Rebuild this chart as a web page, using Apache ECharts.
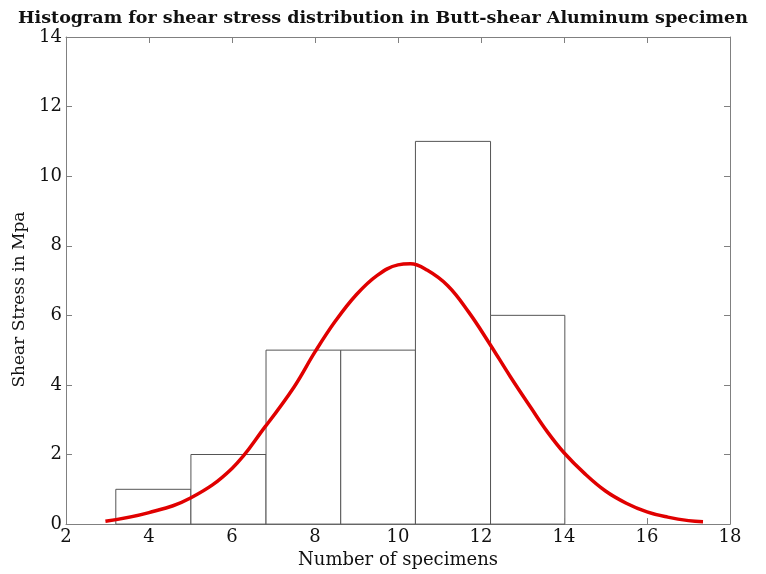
<!DOCTYPE html>
<html>
<head>
<meta charset="utf-8">
<script src="https://cdn.jsdelivr.net/npm/echarts@6/dist/echarts.min.js"></script>
<style>html,body{margin:0;padding:0;background:#fff}#c{width:766px;height:574px}</style>
</head>
<body>
<div id="c"></div>
<script>
const binEdges = [3.2, 5.01, 6.82, 8.62, 10.42, 12.23, 14.02];
const binCounts = [1, 2, 5, 5, 11, 6];
const curveX = [2.95, 4.0, 5.0, 6.0, 6.8, 7.5, 8.0, 8.5, 9.0, 9.5, 10.0, 10.3, 10.7, 11.2, 11.7, 12.2, 12.7, 13.2, 13.6, 14.0, 14.5, 15.0, 15.5, 16.0, 16.5, 17.0, 17.35];
const curveY = [0.08, 0.33, 0.75, 1.6, 2.8, 3.95, 4.95, 5.85, 6.6, 7.15, 7.45, 7.48, 7.3, 6.85, 6.1, 5.2, 4.25, 3.35, 2.65, 2.05, 1.45, 0.95, 0.6, 0.35, 0.2, 0.1, 0.07];
const xTicks = [2, 18, 2];
const yTicks = [0, 14, 2];

const barData = binCounts.map((c, i) => [binEdges[i], binEdges[i + 1], c]);
const lineData = curveX.map((x, i) => [x, curveY[i]]);

const serif = '"DejaVu Serif", "Liberation Serif", serif';
const frame = '#808080';
const chart = echarts.init(document.getElementById('c'));
const axisCommon = {
  axisLine: { show: true, onZero: false, lineStyle: { color: frame, width: 1 } },
  axisTick: { show: true, inside: true, length: 6, lineStyle: { color: frame } },
  splitLine: { show: false }
};
chart.setOption({
  backgroundColor: '#fff',
  animation: false,
  title: {
    text: 'Histogram for shear stress distribution in Butt-shear Aluminum specimen',
    left: 'center', top: 4,
    textStyle: { fontFamily: serif, fontSize: 17.5, fontWeight: 'bold', color: '#111' }
  },
  grid: { left: 66, right: 36, top: 37, bottom: 47 },
  xAxis: [
    Object.assign({
      type: 'value', min: xTicks[0], max: xTicks[1], interval: xTicks[2], position: 'bottom',
      name: 'Number of specimens', nameLocation: 'middle', nameGap: 21,
      nameTextStyle: { fontFamily: serif, fontSize: 18, color: '#111' },
      axisLabel: { fontFamily: serif, fontSize: 18, color: '#111', margin: 4 }
    }, axisCommon),
    Object.assign({
      type: 'value', min: xTicks[0], max: xTicks[1], interval: xTicks[2], position: 'top',
      axisLabel: { show: false }
    }, axisCommon)
  ],
  yAxis: [
    Object.assign({
      type: 'value', min: yTicks[0], max: yTicks[1], interval: yTicks[2], position: 'left',
      name: 'Shear Stress in Mpa', nameLocation: 'middle', nameGap: 36,
      nameTextStyle: { fontFamily: serif, fontSize: 17, color: '#111', padding: [0, 38, 0, 0] },
      axisLabel: { fontFamily: serif, fontSize: 18, color: '#111', margin: 4 }
    }, axisCommon),
    Object.assign({
      type: 'value', min: yTicks[0], max: yTicks[1], interval: yTicks[2], position: 'right',
      axisLabel: { show: false }
    }, axisCommon)
  ],
  series: [
    {
      type: 'custom',
      xAxisIndex: 0, yAxisIndex: 0,
      data: barData,
      encode: { x: [0, 1], y: 2 },
      renderItem: function (params, api) {
        const p0 = api.coord([api.value(0), 0]);
        const p1 = api.coord([api.value(1), api.value(2)]);
        return {
          type: 'rect',
          shape: { x: p0[0], y: p1[1], width: p1[0] - p0[0], height: p0[1] - p1[1] },
          style: { fill: '#fff', stroke: '#555', lineWidth: 1 }
        };
      },
      z: 2
    },
    {
      type: 'line',
      xAxisIndex: 0, yAxisIndex: 0,
      data: lineData,
      smooth: 0.4,
      showSymbol: false,
      lineStyle: { color: '#e00000', width: 3.5 },
      z: 5
    }
  ]
});
</script>
</body>
</html>
